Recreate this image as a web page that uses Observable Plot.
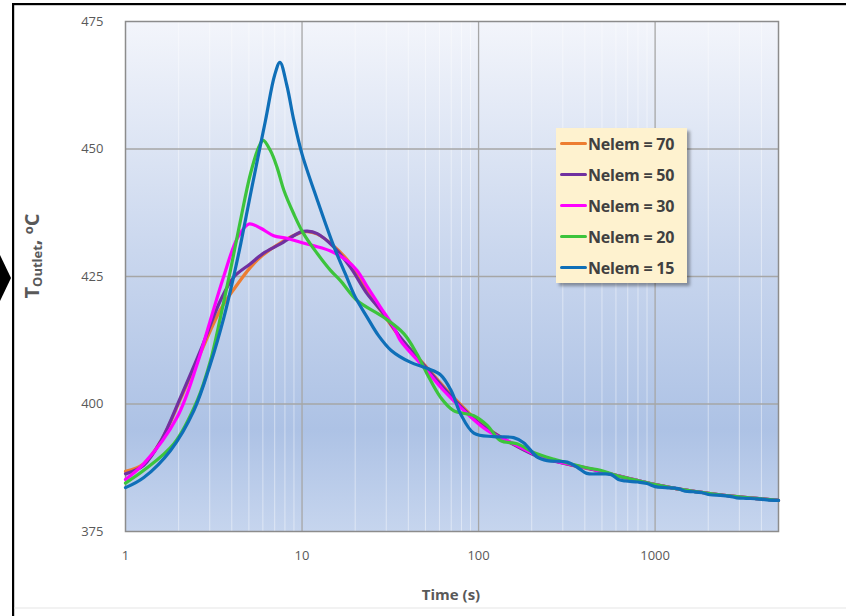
<!DOCTYPE html>
<html><head><meta charset="utf-8">
<script src="https://cdn.jsdelivr.net/npm/d3@7"></script>
<script src="https://cdn.jsdelivr.net/npm/@observablehq/plot@0.6"></script>
<style>
body{margin:0;background:#fff;}
#wrap{position:relative;width:846px;height:616px;overflow:hidden;font-family:"Open Sans","Noto Sans",sans-serif;}
#legend{position:absolute;left:556px;top:128px;width:131px;height:155px;background:#fef2cf;box-shadow:3px 3px 3px rgba(0,0,0,0.35);box-sizing:border-box;padding-top:0px;}
.lrow{display:flex;align-items:center;height:31px;padding-left:4px;}
.lsw{width:27px;height:3.5px;border-radius:2px;}
.ltx{font:bold 16px "Open Sans","Noto Sans",sans-serif;color:#404040;margin-left:1px;letter-spacing:-0.2px;}
</style></head><body><div id="wrap"></div>
<script>
const seriesNames = ["Nelem = 70","Nelem = 50","Nelem = 30","Nelem = 20","Nelem = 15"];
const seriesColors = ["#ED7D31","#7030A0","#FF00FF","#3CC43C","#0F6FB8"];

const t70 = [1,1.27,1.6,2.05,2.66,3.45,4.11,5.1,6.0,7.55,9.8,10.7,12.2,15.1,18.8,23.4,29,36,50,70,100,150,220,320,450,600,800,1000,1500,2000,3000,5000];
const T70 = [386.8,388.3,393,401.0,410,418.5,422.5,426.8,429.2,431.6,433.6,433.8,433.3,431.0,427.5,422,417.5,413.0,407.5,401.8,396.5,392.5,389.8,388.2,387.1,386.0,385.0,384.2,383.1,382.5,381.8,381.1];

const t50 = [1,1.27,1.6,2.05,2.66,3.45,4.11,5.1,6.0,7.55,9.8,10.7,12.2,15.1,18.8,23.4,29,36,50,70,100,150,220,320,450,600,800,1000,1500,2000,3000,5000];
const T50 = [386.3,388.0,393,401.3,410.5,420.3,424.9,427.5,429.5,431.4,433.7,433.9,433.4,430.8,426.8,421.6,417.7,413.1,407.3,401.5,396.3,392.5,389.6,388.2,387.1,386.0,385.0,384.2,383.1,382.5,381.8,381.1];

const t30 = [1,1.27,1.96,2.55,3.0,3.6,4.3,5.0,5.8,6.9,8.2,9.8,11.7,14.5,18,20.5,23.4,27.8,33,36,49,63.6,86,112,158,225,318,430,600,800,1000,1500,2000,3000,5000];
const T30 = [385.2,388.3,397.4,407.9,416,425,432.5,435.3,434.5,433.0,432.5,431.7,431.0,430.0,428.1,426.2,423,419,415.1,412.5,407.2,402.6,398.1,394.8,392.2,389.6,388.3,387.3,386.0,385.0,384.2,383.1,382.5,381.8,381.1];

const t20 = [1,1.27,1.88,2.55,3.03,3.45,3.93,4.48,5.1,5.69,6.02,6.62,7.22,7.89,8.97,10.2,12.2,14.5,16.5,20.5,29,37.7,44.8,51.1,60.9,72.2,94,112,133,165,205,265,398,490,600,800,1000,1500,2000,3000,5000];
const T20 = [384.5,387.0,392.2,400.7,408.5,417.0,426.2,436,445.1,450.4,451.7,449.7,446.4,441.9,437.3,433.4,429.5,426.2,424.2,420.3,417.0,413.8,409.8,405.9,401.3,398.7,397.7,395.8,392.8,392.2,390.5,389.2,387.6,387.0,386.0,385.0,384.2,383.1,382.5,381.8,381.1];

const t15 = [1,1.27,1.8,2.44,3.03,3.61,4.11,4.5,5.2,6.2,7.0,7.5,8.2,9.0,10,12.2,15.1,17.6,20,23.4,27,32,41,51,61,70,79,94,122,158,180,215,245,318,362,410,490,560,620,680,800,900,1000,1150,1350,1480,1650,1850,2050,2350,2650,2900,3300,3800,4300,5000];
const T15 = [383.6,385.6,390.9,398.7,407.9,417.0,425.2,431.5,442.5,455.5,464.5,467,462.5,455.5,449,440,431,425.5,421,417,413.5,410.5,408.2,407,405.7,402.6,398.1,394.3,393.6,393.4,392.4,389.6,388.9,388.6,387.6,386.4,386.3,386.2,385.2,384.9,384.7,384.4,383.8,383.6,383.4,382.9,382.8,382.6,382.2,382.1,381.9,381.6,381.5,381.4,381.2,381.1];

const xTicks = [1,10,100,1000];
const yTicks = [375,400,425,450,475];
const majorGridX = [10,100,1000];
const gridY = [400,425,450];
const minorGridX = [2,3,4,5,6,7,8,9,20,30,40,50,60,70,80,90,200,300,400,500,600,700,800,900,2000,3000,4000];

const times = [t70,t50,t30,t20,t15];
const temps = [T70,T50,T30,T20,T15];
const data = seriesNames.flatMap((name,i)=>times[i].map((t,j)=>({name,t,T:temps[i][j]})));

const plot = Plot.plot({
  width:846, height:616,
  marginLeft:125, marginRight:68, marginTop:21, marginBottom:85,
  style:{fontFamily:'"Open Sans","Noto Sans",sans-serif', fontSize:"13px", color:"#595959", background:"transparent"},
  x:{type:"log", domain:[1,5000], label:null},
  y:{domain:[375,475], label:null},
  color:{domain:seriesNames, range:seriesColors},
  marks:[
    Plot.frame({fill:"url(#bgGrad)", stroke:null}),
    Plot.ruleX(minorGridX,{stroke:"#ffffff", strokeOpacity:0.45, strokeWidth:1}),
    Plot.ruleX(majorGridX,{stroke:"#a6a6a6", strokeWidth:1.3}),
    Plot.ruleY(gridY,{stroke:"#a6a6a6", strokeWidth:1.3}),
    Plot.frame({stroke:"#8c8c8c", strokeWidth:1.5}),
    Plot.line(data,{x:"t", y:"T", z:"name", stroke:"name", strokeWidth:3.2, curve:"catmull-rom"}),
    Plot.axisX({ticks:xTicks, tickSize:0, tickPadding:19, tickFormat:d=>String(d), label:null, fill:"#595959"}),
    Plot.axisY({ticks:yTicks, tickSize:0, tickPadding:22, label:null, fill:"#595959"})
  ]
});

const wrap = document.getElementById("wrap");
wrap.appendChild(plot);
const svg = d3.select(plot);
const defs = svg.insert("defs",":first-child");
const g = defs.append("linearGradient").attr("id","bgGrad").attr("x1",0).attr("y1",0).attr("x2",0).attr("y2",1);
[[0,"#f3f5fb"],[0.45,"#cad7ee"],[0.8,"#adc2e5"],[1,"#c6d5ee"]].forEach(([o,c])=>g.append("stop").attr("offset",o).attr("stop-color",c));

// y-axis title
const yt = svg.append("text").attr("transform","translate(39,256) rotate(-90)").attr("text-anchor","middle")
  .attr("fill","#595959").attr("font-weight","bold").attr("font-size",20);
yt.append("tspan").text("T");
yt.append("tspan").attr("font-size",13).attr("baseline-shift","-25%").text("Outlet");
yt.append("tspan").text(", ");
yt.append("tspan").attr("font-size",13).attr("baseline-shift","45%").text("o");
yt.append("tspan").text("C");

// x-axis title
svg.append("text").attr("x",451).attr("y",600).attr("text-anchor","middle").attr("fill","#595959")
  .attr("font-weight","bold").attr("font-size",15).text("Time (s)");

// decorative frame
svg.append("rect").attr("x",12).attr("y",3).attr("width",834).attr("height",2.2).attr("fill","#000");
svg.append("rect").attr("x",12).attr("y",3).attr("width",2.2).attr("height",613).attr("fill","#000");
svg.append("rect").attr("x",14).attr("y",607.5).attr("width",832).attr("height",1).attr("fill","#e6e6e6");
svg.append("polygon").attr("points","0,255 11,278 0,301").attr("fill","#000");

// legend
const leg = document.createElement("div");
leg.id = "legend";
seriesNames.forEach((n,i)=>{
  const r = document.createElement("div"); r.className="lrow";
  const s = document.createElement("div"); s.className="lsw"; s.style.background = seriesColors[i];
  const tx = document.createElement("div"); tx.className="ltx"; tx.textContent = n;
  r.appendChild(s); r.appendChild(tx); leg.appendChild(r);
});
wrap.appendChild(leg);
</script></body></html>
